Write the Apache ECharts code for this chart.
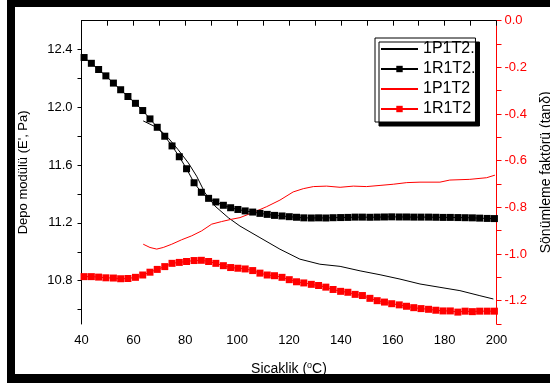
<!DOCTYPE html>
<html>
<head>
<meta charset="utf-8">
<script src="https://cdn.jsdelivr.net/npm/echarts@6/dist/echarts.min.js"></script>
<style>html,body{margin:0;padding:0;background:#fff}#c{width:550px;height:387px}</style>
</head>
<body>
<div id="c"></div>
<script>
// ---- data ----
const seriesNames = ['1P1T2.', '1R1T2.', '1P1T2', '1R1T2'];
const xTickLabels = [40, 60, 80, 100, 120, 140, 160, 180, 200];
const leftTickLabels = [10.8, 11.2, 11.6, 12.0, 12.4];
const rightTickLabels = [0.0, -0.2, -0.4, -0.6, -0.8, -1.0, -1.2];

// 1P1T2. (black line, storage modulus)
const tempBlackLine = [63.8, 69.6, 73.5, 77.3, 81.2, 84.4, 87.6, 91.5, 96.6, 101.1, 108.8, 116.5, 124.2, 131.9, 139.7, 147.4, 155.1, 162.8, 170.5, 178.2, 185.9, 193.6, 198.8];
const modulus1P1T2 = [11.906, 11.856, 11.787, 11.706, 11.615, 11.523, 11.408, 11.316, 11.236, 11.178, 11.098, 11.018, 10.949, 10.914, 10.899, 10.868, 10.841, 10.811, 10.777, 10.754, 10.731, 10.696, 10.673];

// temperatures of the square-marked series
const tempSquares = [41.0, 43.8, 46.6, 49.4, 52.3, 55.1, 57.9, 60.8, 63.6, 66.4, 69.2, 72.1, 74.9, 77.7, 80.5, 83.4, 86.2, 89.0, 91.8, 94.7, 97.5, 100.3, 103.1, 106.0, 108.8, 111.6, 114.4, 117.3, 120.1, 122.9, 125.7, 128.6, 131.4, 134.2, 137.0, 139.9, 142.7, 145.5, 148.3, 151.2, 154.0, 156.8, 159.6, 162.5, 165.3, 168.1, 170.9, 173.8, 176.6, 179.4, 182.2, 185.1, 187.9, 190.7, 193.5, 196.4, 199.2];
// 1R1T2. (black squares, storage modulus)
const modulus1R1T2 = [12.345, 12.305, 12.262, 12.218, 12.168, 12.122, 12.075, 12.028, 11.978, 11.920, 11.862, 11.800, 11.733, 11.658, 11.575, 11.478, 11.412, 11.370, 11.345, 11.322, 11.305, 11.293, 11.283, 11.275, 11.266, 11.259, 11.252, 11.248, 11.243, 11.239, 11.235, 11.234, 11.235, 11.234, 11.236, 11.237, 11.238, 11.240, 11.240, 11.239, 11.240, 11.241, 11.242, 11.241, 11.241, 11.240, 11.240, 11.240, 11.239, 11.238, 11.238, 11.237, 11.236, 11.235, 11.233, 11.231, 11.230];

// 1P1T2 (red line, damping factor)
const tempRedLine = [63.8, 66.4, 69.0, 71.5, 74.8, 78.6, 82.5, 86.3, 90.2, 94.0, 97.9, 101.1, 106.2, 111.4, 116.5, 121.6, 125.5, 129.4, 134.5, 139.7, 144.8, 149.9, 155.1, 160.2, 165.4, 170.5, 178.2, 182.0, 189.7, 196.2, 199.4];
const tan1P1T2 = [-0.958, -0.972, -0.979, -0.972, -0.958, -0.939, -0.922, -0.901, -0.872, -0.861, -0.851, -0.844, -0.822, -0.797, -0.769, -0.734, -0.720, -0.711, -0.709, -0.714, -0.709, -0.711, -0.706, -0.701, -0.694, -0.692, -0.692, -0.683, -0.680, -0.673, -0.662];

// 1R1T2 (red squares, damping factor)
const tan1R1T2 = [-1.097, -1.097, -1.099, -1.102, -1.103, -1.106, -1.105, -1.100, -1.090, -1.078, -1.066, -1.054, -1.040, -1.036, -1.032, -1.028, -1.027, -1.032, -1.040, -1.050, -1.058, -1.061, -1.064, -1.071, -1.082, -1.090, -1.093, -1.100, -1.110, -1.119, -1.124, -1.130, -1.135, -1.142, -1.152, -1.160, -1.164, -1.173, -1.178, -1.190, -1.200, -1.206, -1.213, -1.218, -1.224, -1.230, -1.234, -1.237, -1.241, -1.244, -1.244, -1.249, -1.245, -1.247, -1.245, -1.245, -1.245];

// ---- chart ----
const FONT = '"Liberation Sans", Arial, sans-serif';
const RED = '#ff0000';
const pairs = (xs, ys) => xs.map((x, i) => [x, ys[i]]);
const range = (a, b, s) => { const r = []; for (let v = a; v <= b + 1e-9; v += s) r.push(+v.toFixed(2)); return r; };
const hiddenSymbol = { color: 'rgba(0,0,0,0)', borderWidth: 0, borderColor: 'rgba(0,0,0,0)', opacity: 0 };

const chart = echarts.init(document.getElementById('c'), null, { renderer: 'canvas' });
chart.setOption({
  animation: false,
  backgroundColor: '#fff',
  textStyle: { fontFamily: FONT },
  grid: { left: 81.5, right: 53.5, top: 20.7, bottom: 63, containLabel: false, outerBoundsMode: 'none' },
  legend: {
    orient: 'vertical', left: 375, top: 38,
    itemWidth: 37, itemHeight: 8, itemGap: 4,
    padding: [3, 0, 5, 5],
    backgroundColor: '#fff', borderColor: '#000', borderWidth: 1,
    shadowColor: '#000', shadowOffsetX: 4, shadowOffsetY: 4, shadowBlur: 0,
    textStyle: { fontFamily: FONT, fontSize: 16, color: '#000' },
    data: [
      { name: seriesNames[0], itemStyle: hiddenSymbol },
      { name: seriesNames[1] },
      { name: seriesNames[2], itemStyle: hiddenSymbol },
      { name: seriesNames[3] }
    ]
  },
  xAxis: [{
    type: 'value', min: 40, max: 200, interval: 10, position: 'bottom',
    name: 'Sicaklik ({s|o}C)', nameLocation: 'middle', nameGap: 37,
    nameTextStyle: { fontFamily: FONT, fontSize: 14, color: '#000',
      rich: { s: { fontSize: 9, fontFamily: FONT, color: '#000', padding: [0, 0, 7, 0] } } },
    axisLine: { lineStyle: { color: '#000', width: 1 } },
    axisTick: { inside: false, length: 5, lineStyle: { color: '#000' } },
    axisLabel: { customValues: xTickLabels, fontSize: 13, color: '#000', fontFamily: FONT, margin: 10 },
    splitLine: { show: false }
  }, {
    type: 'value', min: 40, max: 200, interval: 10, position: 'top',
    axisLine: { onZero: false, lineStyle: { color: '#000', width: 1 } },
    axisTick: { inside: true, length: 4, lineStyle: { color: '#000' } },
    axisLabel: { show: false },
    splitLine: { show: false }
  }],
  yAxis: [{
    type: 'value', min: 10.5, max: 12.6, position: 'left',
    name: "Depo modülü (E', Pa)", nameLocation: 'middle', nameGap: 52, nameRotate: 90,
    nameTextStyle: { fontFamily: FONT, fontSize: 13, color: '#000' },
    axisLine: { show: true, onZero: false, lineStyle: { color: '#000', width: 1 } },
    axisTick: { show: true, length: 4, customValues: range(10.6, 12.4, 0.2), lineStyle: { color: '#000' } },
    axisLabel: { customValues: leftTickLabels, formatter: v => v.toFixed(1), fontSize: 13, color: '#000', fontFamily: FONT, margin: 9 },
    splitLine: { show: false }
  }, {
    type: 'value', min: -1.3, max: 0, interval: 0.1, position: 'right',
    name: 'Sönümleme faktörü (tanδ)', nameLocation: 'middle', nameGap: 43, nameRotate: 90,
    nameTextStyle: { fontFamily: FONT, fontSize: 14, color: '#000' },
    axisLine: { show: true, onZero: false, lineStyle: { color: RED, width: 1 } },
    axisTick: { show: true, length: 5, lineStyle: { color: RED } },
    axisLabel: { customValues: rightTickLabels, formatter: v => v.toFixed(1), fontSize: 13, color: RED, fontFamily: FONT, margin: 8 },
    splitLine: { show: false }
  }],
  graphic: [
    { type: 'rect', shape: { x: 7, y: 0, width: 8, height: 383 }, style: { fill: '#000' }, z: 100 },
    { type: 'rect', shape: { x: 7, y: 0, width: 543, height: 7 }, style: { fill: '#000' }, z: 100 },
    { type: 'rect', shape: { x: 7, y: 374, width: 543, height: 9 }, style: { fill: '#000' }, z: 100 }
  ],
  series: [{
    name: seriesNames[0], type: 'line', xAxisIndex: 0, yAxisIndex: 0,
    data: pairs(tempBlackLine, modulus1P1T2), symbol: 'none',
    lineStyle: { color: '#000', width: 1 }, itemStyle: { color: '#000' }
  }, {
    name: seriesNames[1], type: 'line', xAxisIndex: 0, yAxisIndex: 0,
    data: pairs(tempSquares, modulus1R1T2), symbol: 'rect', symbolSize: 7, showSymbol: true,
    lineStyle: { color: '#000', width: 1 }, itemStyle: { color: '#000' }
  }, {
    name: seriesNames[2], type: 'line', xAxisIndex: 0, yAxisIndex: 1,
    data: pairs(tempRedLine, tan1P1T2), symbol: 'none',
    lineStyle: { color: RED, width: 1 }, itemStyle: { color: RED }
  }, {
    name: seriesNames[3], type: 'line', xAxisIndex: 0, yAxisIndex: 1,
    data: pairs(tempSquares, tan1R1T2), symbol: 'rect', symbolSize: 7, showSymbol: true,
    lineStyle: { color: RED, width: 1 }, itemStyle: { color: RED }
  }]
});
</script>
</body>
</html>
